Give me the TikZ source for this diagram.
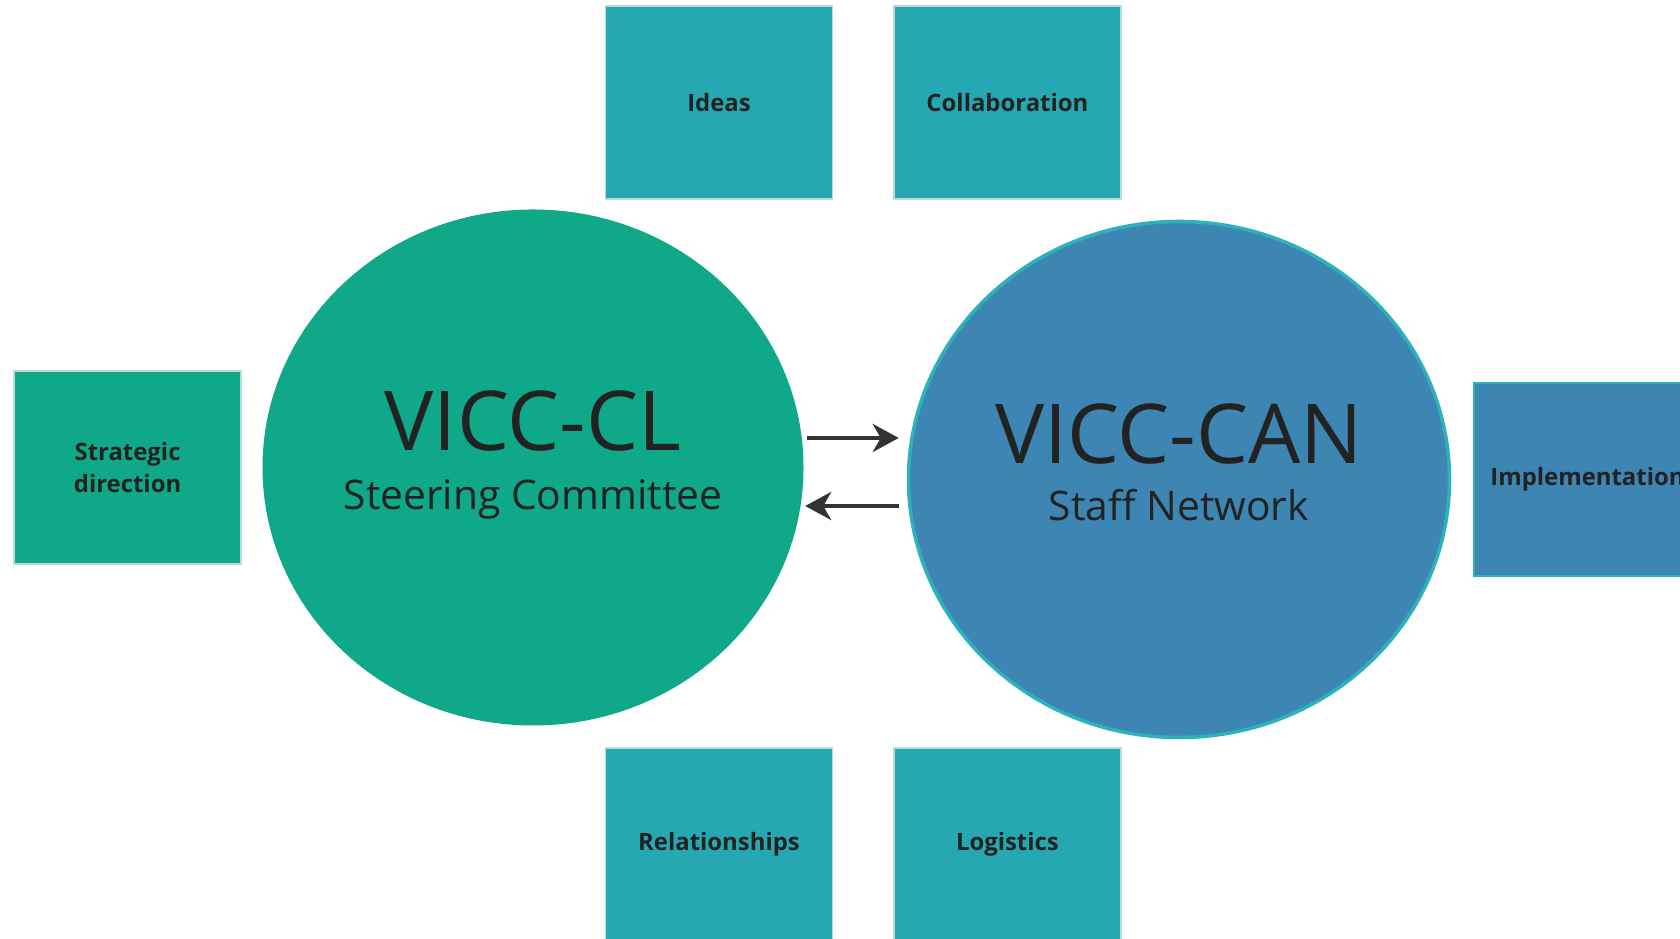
\documentclass[tikz,border=0pt]{standalone}
\usepackage{fontspec}
\setmainfont{Open Sans}
\usetikzlibrary{positioning,shapes.geometric,arrows.meta}
\definecolor{vgreen}{RGB}{15,168,137}
\definecolor{vteal}{RGB}{38,168,178}
\definecolor{vblue}{RGB}{61,133,178}
\definecolor{vrim}{RGB}{44,178,186}
\definecolor{vtext}{RGB}{34,34,34}
\definecolor{varrow}{RGB}{51,51,51}
\definecolor{vedge}{RGB}{185,218,222}
\tikzset{
  group/.style={ellipse, minimum width=5.41cm, minimum height=5.16cm, inner sep=0pt},
  task/.style={rectangle, minimum width=2.27cm, minimum height=1.93cm, fill=vteal, draw=vedge, line width=0.4pt,
    text=vtext, font=\bfseries\fontsize{6.8}{9.3}\selectfont, align=center, inner sep=0pt},
  title/.style={text=vtext, font=\fontsize{23.5}{28}\selectfont, inner sep=0pt, anchor=base},
  subtitle/.style={text=vtext, font=\fontsize{11.6}{14}\selectfont, inner sep=0pt, anchor=base},
  flow/.style={-{Stealth[length=2.6mm,width=2.8mm,inset=0.8mm]}, line width=1.2pt, draw=varrow}
}
\begin{document}
\begin{tikzpicture}
\useasboundingbox (0,0) rectangle (16.8,9.39);
\node[group, fill=vgreen](cl) at (5.33,4.715){};
\node[group, fill=vblue, draw=vrim, line width=1pt](can) at (11.79,4.595){};
\node[title](cltitle) at ([yshift=0.165cm]cl.center){VICC-CL};
\node[subtitle](clsub) at ([yshift=-0.418cm]cl.center){Steering Committee};
\node[title](cantitle) at ([yshift=0.162cm]can.center){VICC-CAN};
\node[subtitle](cansub) at ([yshift=-0.415cm]can.center){Staff Network};
\node[task](ideas) at (7.19,8.365){Ideas};
\node[task, right=0.6cm of ideas](collab){Collaboration};
\node[task](rel) at (7.19,0.945){Relationships};
\node[task, right=0.6cm of rel](logi){Logistics};
\node[task, fill=vgreen, left=0.2cm of cl](strat){Strategic\\direction};
\node[task, fill=vblue, draw=vrim, right=0.22cm of can](impl){Implementation};
\draw[flow, shorten <=0.03cm, shorten >=0.08cm] (cl.east |- 0,5.01) -- (can.west |- 0,5.01);
\draw[flow, shorten <=0.08cm, shorten >=0.01cm] (can.west |- 0,4.33) -- (cl.east |- 0,4.33);
\end{tikzpicture}
\end{document}
